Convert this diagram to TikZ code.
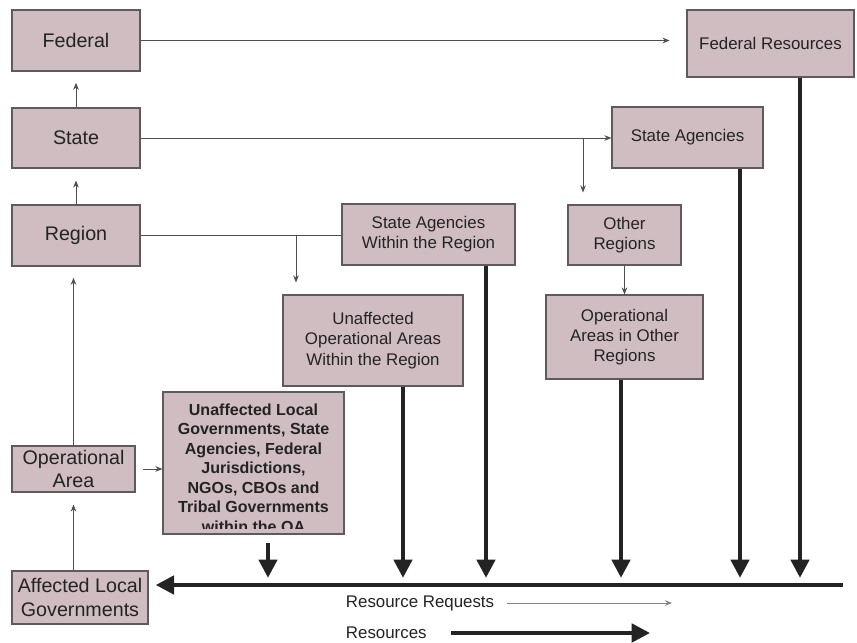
\documentclass[tikz,border=0pt]{standalone}
\usepackage{fontspec}
\setmainfont{Liberation Sans}
\usetikzlibrary{arrows.meta, calc, positioning}
\definecolor{boxfill}{RGB}{208,189,194}
\definecolor{boxline}{RGB}{95,90,92}
\definecolor{ink}{RGB}{35,35,35}

\begin{document}
\begin{tikzpicture}[x=0.025cm, y=-0.025cm, >={Stealth[length=5pt,width=4pt]},
    link/.style={draw=ink!80, line width=0.7pt},
    res/.style={draw=ink, line width=2.8pt, -{Triangle[length=13pt,width=13pt]}},
    every node/.style={font=\fontsize{12}{14.4}\selectfont, text=ink}]
    \useasboundingbox (0,0) rectangle (857,643);
    % Define styles for the boxes
    \tikzstyle{block} = [draw=boxline, fill=boxfill, rectangle, line width=0.8pt, align=center, inner sep=2pt]
    \tikzstyle{level} = [block, font=\fontsize{14}{17}\selectfont]

    % Levels on the left
    \node [level, minimum width=3.2cm, minimum height=1.525cm] (fed) at (76,40.5) {Federal};
    \node [level, minimum width=3.2cm, minimum height=1.5cm] (state) at (76,138) {State};
    \node [level, minimum width=3.2cm, minimum height=1.525cm] (region) at (76,235.5) {Region};
    \node [level, minimum width=3.075cm, minimum height=1.15cm] (opa) at (73.5,469) {Operational\\Area};
    \node [level, minimum width=3.4cm, minimum height=1.325cm] (alg) at (80,597.5) {Affected Local\\Governments};

    % Resource boxes
    \node [block, minimum width=4.175cm, minimum height=1.675cm] (fres) at (770.5,43.5) {Federal Resources};
    \node [block, minimum width=3.775cm, minimum height=1.525cm] (sag) at (687.5,137.5) {State Agencies};
    \node [block, minimum width=2.825cm, minimum height=1.5cm] (oreg) at (624.5,235) {Other\\Regions};
    \node [block, minimum width=3.925cm, minimum height=2.1cm] (oaor) at (624.5,337) {Operational\\Areas in Other\\Regions};
    \node [block, minimum width=4.325cm, minimum height=1.525cm] (sawr) at (428.5,234.5) {State Agencies\\Within the Region};
    \node [block, minimum width=4.5cm, minimum height=2.275cm] (uoa) at (373,340.5) {Unaffected\\Operational Areas\\Within the Region};
    \node [block, minimum width=4.525cm, minimum height=3.55cm] (ulg) at (253.5,463) {};
    \begin{scope}
        \clip ($(ulg.south west)+(1,-6)$) rectangle ($(ulg.north east)+(-1,1)$);
        \node [align=center, anchor=north, font=\bfseries\fontsize{11.4}{13.9}\selectfont] (ulgtext) at ($(ulg.north)+(0,7)$)
            {Unaffected Local\\Governments, State\\Agencies, Federal\\Jurisdictions,\\NGOs, CBOs and\\Tribal Governments\\within the OA};
    \end{scope}

    % Branch points and the resource bar
    \coordinate (sbranch) at (583,138);
    \coordinate (rbranch) at (296,236);
    \coordinate (busR) at (843,585);
    \coordinate (t0) at (268,585);
    \coordinate (t1) at (403,585);
    \coordinate (t2) at (486,585);
    \coordinate (t3) at (621,585);
    \coordinate (t4) at (740,585);
    \coordinate (t5) at (800,585);

    % Requests
    \draw[link,->,shorten >=0.28cm] (state.north) -- (fed.south);
    \draw[link,->,shorten >=0.3cm] (region.north) -- (state.south);
    \draw[link,->,shorten >=0.28cm] (opa.north) -- (opa.north |- region.south);
    \draw[link,->,shorten >=0.3cm] (opa.south |- alg.north) -- (opa.south);
    \draw[link,->,shorten <=0.18cm] (opa.east) -- (opa.east -| ulg.west);
    \draw[link,->,shorten >=0.42cm] (fed.east) -- (fed.east -| fres.west);
    \draw[link,->] (state.east) -- (state.east -| sag.west);
    \draw[link,->,shorten >=0.3cm] (sbranch) -- (sbranch |- oreg.north);
    \draw[link] (region.east) -- (region.east -| sawr.west);
    \draw[link,->,shorten >=0.3cm] (rbranch) -- (rbranch |- uoa.north);
    \draw[link,->] (oreg.south) -- (oreg.south |- oaor.north);

    % Resources
    \draw[res,shorten <=0.2cm,shorten >=0.18cm] (t0 |- ulg.south) -- (t0);
    \draw[res,shorten >=0.18cm] (t1 |- uoa.south) -- (t1);
    \draw[res,shorten >=0.18cm] (t2 |- sawr.south) -- (t2);
    \draw[res,shorten >=0.18cm] (t3 |- oaor.south) -- (t3);
    \draw[res,shorten >=0.18cm] (t4 |- sag.south) -- (t4);
    \draw[res,shorten >=0.18cm] (t5 |- fres.south) -- (t5);
    \draw[res,shorten >=0.18cm] (busR) -- (busR -| alg.east);

    % Legend
    \node [anchor=west] (lreq) at (341,603) {Resource Requests};
    \node [anchor=west] (lres) at (341,633) {Resources};
    \coordinate (lreqend) at (672,603);
    \coordinate (lresend) at (650,633);
    \draw[link,draw=ink!55,->,shorten <=0.2cm] (lreq.east) -- (lreqend);
    \draw[res,shorten <=0.48cm] (lres.east) -- (lresend);
\end{tikzpicture}
\end{document}
